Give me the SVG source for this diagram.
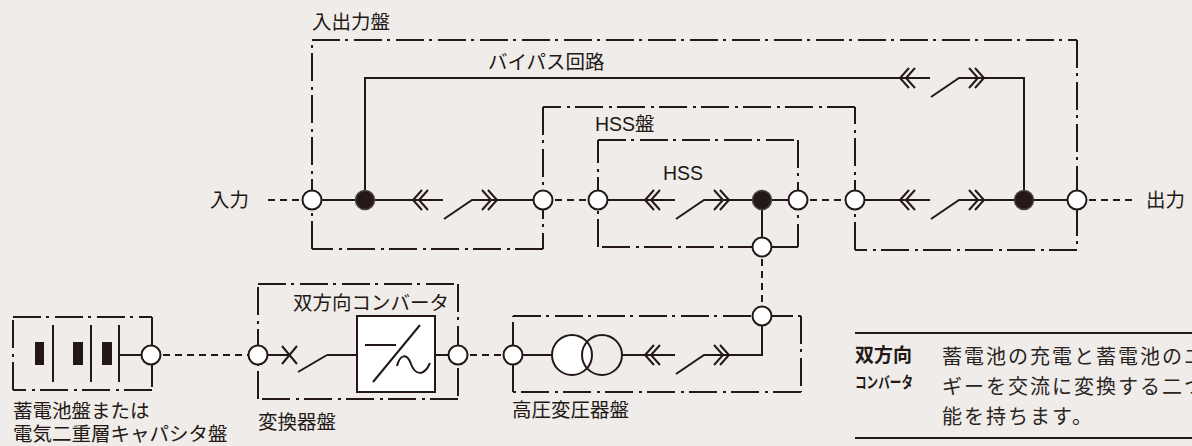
<svg xmlns="http://www.w3.org/2000/svg" xmlns:xlink="http://www.w3.org/1999/xlink" width="1192" height="446" viewBox="0 0 1192 446">
<style>
.ln{stroke:#231815;stroke-width:2;fill:none}
.box{stroke:#231815;stroke-width:2;fill:none;stroke-dasharray:28 5 3 6}
.dsh{stroke:#231815;stroke-width:2;fill:none;stroke-dasharray:7 5}
.wn{fill:#fff;stroke:#231815;stroke-width:2}
.bn{fill:#231815;stroke:#4a4242;stroke-width:1.5}
.t{font-family:"Liberation Sans","Noto Sans CJK JP",sans-serif;font-size:19.5px;fill:#231815}
.lg{font-family:"Noto Sans CJK JP",sans-serif;fill:#231815}
.bd{font-family:"Noto Sans CJK JP",sans-serif;fill:#2a2423;font-size:20px;letter-spacing:2px}
</style>
<defs>
<g id="brk" class="ln">
<path d="M0,0 H30 M9,-10 L0,0 L9,10 M15,-10 L6,0 L15,10"/>
<path d="M31,19 L59,0 H84 M69,-10 L78,0 L69,10 M75,-10 L84,0 L75,10"/>
</g>
</defs>
<rect width="1192" height="446" fill="#efece9"/>

<g id="panels">
<path class="box" d="M312,249 V40 M312,40 H1077 M1077,40 V250 M1077,250 H855 M855,250 V107 M855,107 H543 M543,107 V249 M543,249 H312"/>
<path class="box" d="M598,247 V140 M598,140 H798 M798,140 V247 M798,247 H598"/>
<path class="box" d="M513,392 V316 M513,316 H801 M801,316 V392 M801,392 H513"/>
<path class="box" d="M258,399 V284 M258,284 H458 M458,284 V399 M458,399 H258"/>
<path class="box" d="M13,390 V317 M13,317 H152 M152,317 V390 M152,390 H13"/>
</g>

<g id="connectors">
<path class="dsh" d="M268,200 H312 M543,200 H598 M798,200 H855 M1077,200 H1132 M762,247 V316 M458,355 H513 M151,355 H258"/>
<path class="ln" d="M312,200 H413 M497,200 H543 M598,200 H645 M729,200 H798 M855,200 H900 M984,200 H1077"/>
<path class="ln" d="M365,200 V78 H900 M984,78 H1024 V200"/>
<path class="ln" d="M762,200 V247 M762,316 V355 H729 M513,355 H552 M622,355 H645"/>
<path class="ln" d="M258,355 H289 M327,355 H357 M435,355 H458 M119,355 H151"/>
</g>

<g id="breakers">
<use xlink:href="#brk" href="#brk" x="413" y="200"/>
<use xlink:href="#brk" href="#brk" x="645" y="200"/>
<use xlink:href="#brk" href="#brk" x="900" y="78"/>
<use xlink:href="#brk" href="#brk" x="900" y="200"/>
<use xlink:href="#brk" href="#brk" x="645" y="355"/>
</g>

<g id="battery">
<path class="ln" d="M53,325 V382 M91,325 V382 M119,325 V382"/>
<rect x="35" y="342" width="9" height="23" fill="#231815"/>
<rect x="73" y="342" width="10" height="23" fill="#231815"/>
<rect x="102" y="342" width="10" height="23" fill="#231815"/>
</g>

<g id="converter">
<path class="ln" d="M282,346 L297,364 M297,346 L282,364 M298,372 L327,355"/>
<rect x="357" y="316" width="78" height="76" fill="#fff" stroke="#231815" stroke-width="2"/>
<path class="ln" d="M365,345 H396 M373,382 L420,325 M397,366 C400,354 407,353 411,364 C415,375 424,377 430,363"/>
</g>

<g id="transformer">
<circle cx="572" cy="355" r="20" class="wn"/>
<circle cx="602" cy="355" r="20" fill="none" stroke="#231815" stroke-width="2"/>
</g>

<g id="nodes">
<circle cx="312" cy="200" r="9.5" class="wn"/>
<circle cx="365" cy="200" r="9.5" class="bn"/>
<circle cx="543" cy="200" r="9.5" class="wn"/>
<circle cx="598" cy="200" r="9.5" class="wn"/>
<circle cx="762" cy="200" r="9.5" class="bn"/>
<circle cx="798" cy="200" r="9.5" class="wn"/>
<circle cx="855" cy="200" r="9.5" class="wn"/>
<circle cx="1024" cy="200" r="9.5" class="bn"/>
<circle cx="1077" cy="200" r="9.5" class="wn"/>
<circle cx="762" cy="247" r="9.5" class="wn"/>
<circle cx="762" cy="316" r="9.5" class="wn"/>
<circle cx="513" cy="355" r="9.5" class="wn"/>
<circle cx="458" cy="355" r="9.5" class="wn"/>
<circle cx="258" cy="355" r="9.5" class="wn"/>
<circle cx="151" cy="355" r="9.5" class="wn"/>
</g>

<g id="labels">
<text class="t" x="312" y="28.5">入出力盤</text>
<text class="t" x="488" y="68.5">バイパス回路</text>
<text class="t" x="595" y="131">HSS盤</text>
<text class="t" x="663" y="180">HSS</text>
<text class="t" x="210" y="207">入力</text>
<text class="t" x="1146" y="207">出力</text>
<text class="t" x="293" y="310">双方向コンバータ</text>
<text class="t" x="13" y="418">蓄電池盤または</text>
<text class="t" x="13" y="441">電気二重層キャパシタ盤</text>
<text class="t" x="258" y="428.5">変換器盤</text>
<text class="t" x="512" y="416.5">高圧変圧器盤</text>
</g>

<g id="legend">
<path class="ln" d="M855,333 H1192 M855,438 H1192" stroke-width="1.5"/>
<text class="lg" x="855" y="362" font-size="19" font-weight="bold">双方向</text>
<text class="lg" x="855" y="388" font-size="16" font-weight="bold" textLength="58" lengthAdjust="spacingAndGlyphs">コンバータ</text>
<text class="bd" x="942" y="364">蓄電池の充電と蓄電池のエ</text>
<text class="bd" x="942" y="394">ギーを交流に変換する二つ</text>
<text class="bd" x="942" y="424">能を持ちます。</text>
</g>
</svg>
